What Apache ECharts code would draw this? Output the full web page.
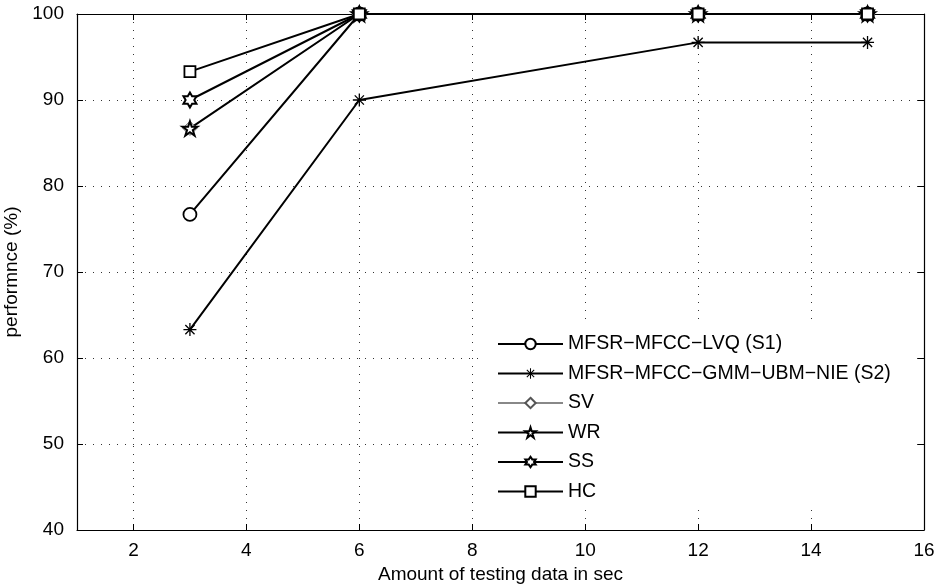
<!DOCTYPE html>
<html><head><meta charset="utf-8">
<script src="https://cdn.jsdelivr.net/npm/echarts@6/dist/echarts.min.js"></script>
<style>html,body{margin:0;padding:0;background:#fff}#c{width:941px;height:585px}</style>
</head><body><div id="c"></div>
<script>
// ---- data ----
const xValues = [3, 6, 12, 15];
const s1 = [76.7, 100, 100, 100];
const s2 = [63.3, 90, 96.7, 96.7];
const sv = [86.7, 100, 100, 100];
const wr = [86.7, 100, 100, 100];
const ss = [90, 100, 100, 100];
const hc = [93.3, 100, 100, 100];
const seriesNames = ['MFSR\u2212MFCC\u2212LVQ (S1)', 'MFSR\u2212MFCC\u2212GMM\u2212UBM\u2212NIE (S2)', 'SV', 'WR', 'SS', 'HC'];
const xTicks = [2, 4, 6, 8, 10, 12, 14, 16];
const yTicks = [40, 50, 60, 70, 80, 90, 100];
const xTitle = 'Amount of testing data in sec';
const yTitle = 'performnce (%)';

// ---- symbols ----
const ASTERISK = 'path://M-10,-1L10,-1L10,1L-10,1Z M-1,-10L1,-10L1,10L-1,10Z M-6.36,-7.78L7.78,6.36L6.36,7.78L-7.78,-6.36Z M-7.78,6.36L6.36,-7.78L7.78,-6.36L-6.36,7.78Z';
const STAR5 = 'path://M0,-10L2.25,-3.09L9.51,-3.09L3.63,1.18L5.88,8.09L0,3.82L-5.88,8.09L-3.63,1.18L-9.51,-3.09L-2.25,-3.09Z';
const HEX = 'path://M0,-10L2.89,-5L8.66,-5L5.77,0L8.66,5L2.89,5L0,10L-2.89,5L-8.66,5L-5.77,0L-8.66,-5L-2.89,-5Z';

const FONT = 'Liberation Sans, Arial, sans-serif';
const FS = 19;

function pairs(ys) { return xValues.map((x, i) => [x, ys[i]]); }

function mk(name, ys, symbol, size, opts) {
  opts = opts || {};
  const lc = opts.lineColor || '#000';
  return {
    name: name, type: 'line', data: pairs(ys),
    xAxisIndex: 0, yAxisIndex: 0,
    symbol: symbol, symbolSize: size, symbolKeepAspect: true,
    showAllSymbol: true,
    lineStyle: { color: lc, width: opts.lineWidth || 2 },
    itemStyle: Object.assign({ color: '#fff', borderColor: opts.markColor || '#000', borderWidth: opts.bw == null ? 1.8 : opts.bw }, opts.item || {}),
    emphasis: { disabled: true },
    animation: false
  };
}

const chart = echarts.init(document.getElementById('c'), null, { renderer: 'canvas' });
const axisLine = { show: true, lineStyle: { color: '#000', width: 1.2 } };
const option = {
  backgroundColor: '#fff',
  animation: false,
  grid: { left: 77, right: 17, top: 14, bottom: 55, containLabel: false, outerBoundsMode: 'none' },
  xAxis: [{
    type: 'value', min: 1, max: 16,
    axisLine: axisLine,
    axisTick: { show: true, inside: true, length: 6, lineStyle: { color: '#000' }, customValues: xTicks },
    axisLabel: { color: '#000', fontSize: FS, fontFamily: FONT, margin: 11, customValues: xTicks },
    splitLine: { show: true, lineStyle: { color: '#333', width: 1, type: [1, 7] } },
    name: xTitle, nameLocation: 'middle', nameGap: 34,
    nameTextStyle: { color: '#000', fontSize: FS, fontFamily: FONT }
  }, {
    type: 'value', min: 1, max: 16, position: 'top',
    axisLine: axisLine,
    axisTick: { show: true, inside: true, length: 6, lineStyle: { color: '#000' }, customValues: xTicks },
    axisLabel: { show: false },
    splitLine: { show: false }
  }],
  yAxis: [{
    type: 'value', min: 40, max: 100, interval: 10,
    axisLine: axisLine,
    axisTick: { show: true, inside: true, length: 6, lineStyle: { color: '#000' } },
    axisLabel: { color: '#000', fontSize: FS, fontFamily: FONT, margin: 13 },
    splitLine: { show: true, lineStyle: { color: '#333', width: 1, type: [1, 7] } },
    name: yTitle, nameLocation: 'middle', nameGap: 46, nameRotate: 90,
    nameTextStyle: { color: '#000', fontSize: FS, fontFamily: FONT }
  }, {
    type: 'value', min: 40, max: 100, interval: 10, position: 'right',
    axisLine: axisLine,
    axisTick: { show: true, inside: true, length: 6, lineStyle: { color: '#000' } },
    axisLabel: { show: false },
    splitLine: { show: false }
  }],
  legend: {
    orient: 'vertical', left: 478, top: 326,
    backgroundColor: '#fff',
    padding: [8, 20, 8, 19],
    itemWidth: 65, itemHeight: 13, itemGap: 9.5,
    textStyle: { color: '#000', fontSize: 19.5, fontFamily: FONT },
    data: seriesNames
  },
  series: [
    mk(seriesNames[0], s1, 'circle', 13),
    mk(seriesNames[1], s2, ASTERISK, 13, { item: { color: '#000', borderWidth: 0 } }),
    mk(seriesNames[2], sv, 'diamond', 14, { lineColor: '#888', lineWidth: 1, markColor: '#555', bw: 1 }),
    mk(seriesNames[3], wr, STAR5, 15, { bw: 2 }),
    mk(seriesNames[4], ss, HEX, 15, { bw: 2 }),
    mk(seriesNames[5], hc, 'rect', 11)
  ]
};
chart.setOption(option);
</script>
</body></html>
